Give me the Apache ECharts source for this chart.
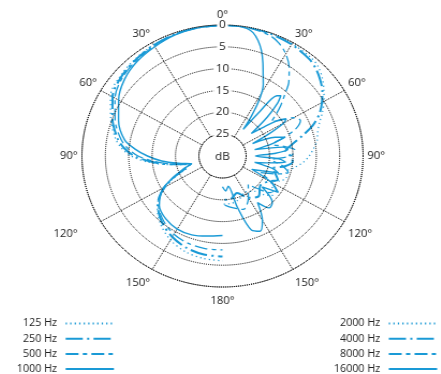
<!DOCTYPE html>
<html><head><meta charset="utf-8">
<script src="https://cdn.jsdelivr.net/npm/echarts@6/dist/echarts.min.js"></script>
<style>
html,body{margin:0;padding:0;background:#fff;overflow:hidden;width:441px;height:374px}
#c{width:441px;height:374px;transform:scaleX(1.073);transform-origin:222.5px 0;}
</style></head><body><div id="c"></div>
<script>
// ---- data (angle in degrees from front, attenuation in dB) ----
const angleTicks = [0, 30, 60, 90, 120, 150, 180];
const dbTicks = [0, 5, 10, 15, 20, 25];
const lowNames = ['125 Hz', '250 Hz', '500 Hz', '1000 Hz'];
const highNames = ['2000 Hz', '4000 Hz', '8000 Hz', '16000 Hz'];

const lowAngles = [0,10,20,30,40,50,60,70,80,85,90,95,100,105,110,115,120,125,130,140,150,160,170,180];
const db125  = [0,0.1,0.3,0.6,1.0,1.5,2.4,4.6,6.8,8.3,10.5,14,18.5,22.5,22,19,16,13.5,11.8,9.5,7.8,6.7,6.2,6.0];
const db250  = [0,0.1,0.3,0.7,1.2,1.8,2.9,5.0,7.3,8.9,11.2,14.8,19,23,21.5,18.7,15.8,13.5,12.0,10.0,8.6,7.6,7.1,7.0];
const db500  = [0,0.1,0.4,0.9,1.4,2.1,3.5,5.6,8.0,9.7,12.0,15.5,19.5,23.2,21.2,18.5,15.6,13.6,12.2,10.5,9.3,8.7,8.5,8.5];
const db1000 = [0,0.2,0.5,1.1,1.7,2.7,4.4,6.4,8.8,11.2,14,17,20.5,23.2,21,18.5,15.5,13.8,12.4,11.2,10.7,10.8,11.4,11.8];

const ang2000 = [0,10,20,30,40,45,50,55,60,65,70,75,80,85,90,95,100,105,110,115,120,125,130,135,140,150,160,170,180];
const db2000  = [0,0,0.1,0.3,0.6,1.1,2.2,3.6,5,6.5,8,9,9.5,10.5,11.5,12.8,14.5,16,15.5,16.5,18,17,16,17.5,19.5,20.5,19.5,19,19];
const ang4000 = [0,10,20,30,40,45,50,55,60,65,70,75,80,85,90,95,100,105,110,115,120,130,140,150,160,170,180];
const db4000  = [0,0,0.2,0.5,1.1,1.8,2.8,4.0,5.5,7.2,9.5,12.5,15,16.5,15.5,15,16.5,19,18,17,18.5,19.5,18,19,21,20,20];
const ang8000 = [0,10,20,25,30,35,40,43,47,50,53,56,60,64,68,72,76,80,85,90,95,100,105,110,115,120,125,130,135,140,150,160,170,180];
const db8000  = [0,0.1,0.6,1.5,3,5.2,8,10.4,13,15,17,15.5,12.5,11.5,13,16,19,17,14.5,15.5,19.5,17,15.5,18,21,18,16,17,19.5,21.5,19,17,18,19];
const ang16000 = [0,5,10,13,16,19,22,25,28,31,34,36,38,40,42,44,47,50,53,56,58,60,63,66,69,72,75,78,81,84,87,90,93,96,99,102,105,108,112,116,120,125,130,135,140,145,150,155,160,165,170,175,180];
const db16000  = [0,0,0.3,1,2.5,4.5,7,9.5,11.5,14.5,19,22.5,17,12,11.4,13,17,22,19,15,14,15,19,23,18,16,19,23,17,16,19,23,18,16.5,20,23,19,17.5,21,23,18,15.5,19,15,14.5,17,13,11,12,18,23,22,23];

// ---- styles ----
const BLUE = '#1a9ad6';
const styles = [
  {type: [1.2, 3], width: 1.2},
  {type: [16, 4, 2, 4], width: 2},
  {type: [12, 4, 4, 4], width: 1.3},
  {type: 'solid', width: 1.4}
];

function toData(angles, dbs, left) {
  return angles.map((a, i) => [dbs[i], left ? 360 - a : a]);
}
const lowSets = [db125, db250, db500, db1000];
const highSets = [[ang2000, db2000], [ang4000, db4000], [ang8000, db8000], [ang16000, db16000]];

const series = [];
lowNames.forEach((n, i) => series.push({
  name: n, type: 'line', coordinateSystem: 'polar', symbol: 'none', showSymbol: false, smooth: 0.3,
  lineStyle: {color: BLUE, type: styles[i].type, width: styles[i].width}, itemStyle: {color: BLUE},
  data: toData(lowAngles, lowSets[i], true), z: 2
}));
highNames.forEach((n, i) => series.push({
  name: n, type: 'line', coordinateSystem: 'polar', symbol: 'none', showSymbol: false, smooth: 0.3,
  lineStyle: {color: BLUE, type: styles[i].type, width: styles[i].width}, itemStyle: {color: BLUE},
  data: toData(highSets[i][0], highSets[i][1], false), z: 2
}));

const FONT = 'Open Sans';
const legendCommon = {
  orient: 'vertical', align: 'right', itemWidth: 45, itemHeight: 12, itemGap: 5.2,
  top: 318.5, height: 80, padding: 0, selectedMode: false,
  itemStyle: {opacity: 0},
  textStyle: {fontSize: 10, fontFamily: FONT, color: '#222', padding: [0, 3, 0, 0]}
};

function angleLabel(v) {
  const d = v > 180 ? 360 - v : v;
  if (v === 240) return '{l|' + d + '°}';
  if (v >= 120 && v <= 240) return '{b|' + d + '°}';
  return d + '°';
}

const chart = echarts.init(document.getElementById('c'), null, {renderer: 'canvas'});
chart.setOption({
  animation: false,
  backgroundColor: '#fff',
  polar: {center: [222.5, 156], radius: [22, 131]},
  angleAxis: {
    type: 'value', min: 0, max: 360, interval: 30, startAngle: 90, clockwise: true,
    axisLine: {show: true, lineStyle: {type: 'dotted', color: '#000', width: 1}},
    axisTick: {show: false},
    axisLabel: {margin: 4, fontSize: 10.5, fontFamily: FONT, color: '#222',
      formatter: angleLabel,
      rich: {
        b: {fontSize: 10.5, fontFamily: FONT, color: '#222', padding: [5, 0, 0, 0]},
        l: {fontSize: 10.5, fontFamily: FONT, color: '#222', padding: [5, 18, 0, 0]}
      }},
    splitLine: {show: true, lineStyle: {type: 'dotted', width: 1, color: ['rgba(0,0,0,0)', '#000', '#000']}}
  },
  radiusAxis: {
    type: 'value', min: 0, max: 25, interval: 5, inverse: true, z: 5,
    axisLine: {show: false}, axisTick: {show: false},
    axisLabel: {margin: 0, align: 'center', verticalAlign: 'middle', fontSize: 11, fontFamily: FONT,
      color: '#222', backgroundColor: '#fff', padding: [0, 2, 0, 2]},
    splitLine: {show: true, lineStyle: {type: 'dotted', color: '#000', width: 1}}
  },
  legend: [
    Object.assign({}, legendCommon, {right: 318.7, data: lowNames}),
    Object.assign({}, legendCommon, {right: 17.5, data: highNames})
  ],
  graphic: [{type: 'text', x: 222.5, y: 157, z: 10,
    style: {text: 'dB', align: 'center', verticalAlign: 'middle', fontSize: 11, fontFamily: FONT, fill: '#222'}}],
  series: series
});
</script></body></html>
